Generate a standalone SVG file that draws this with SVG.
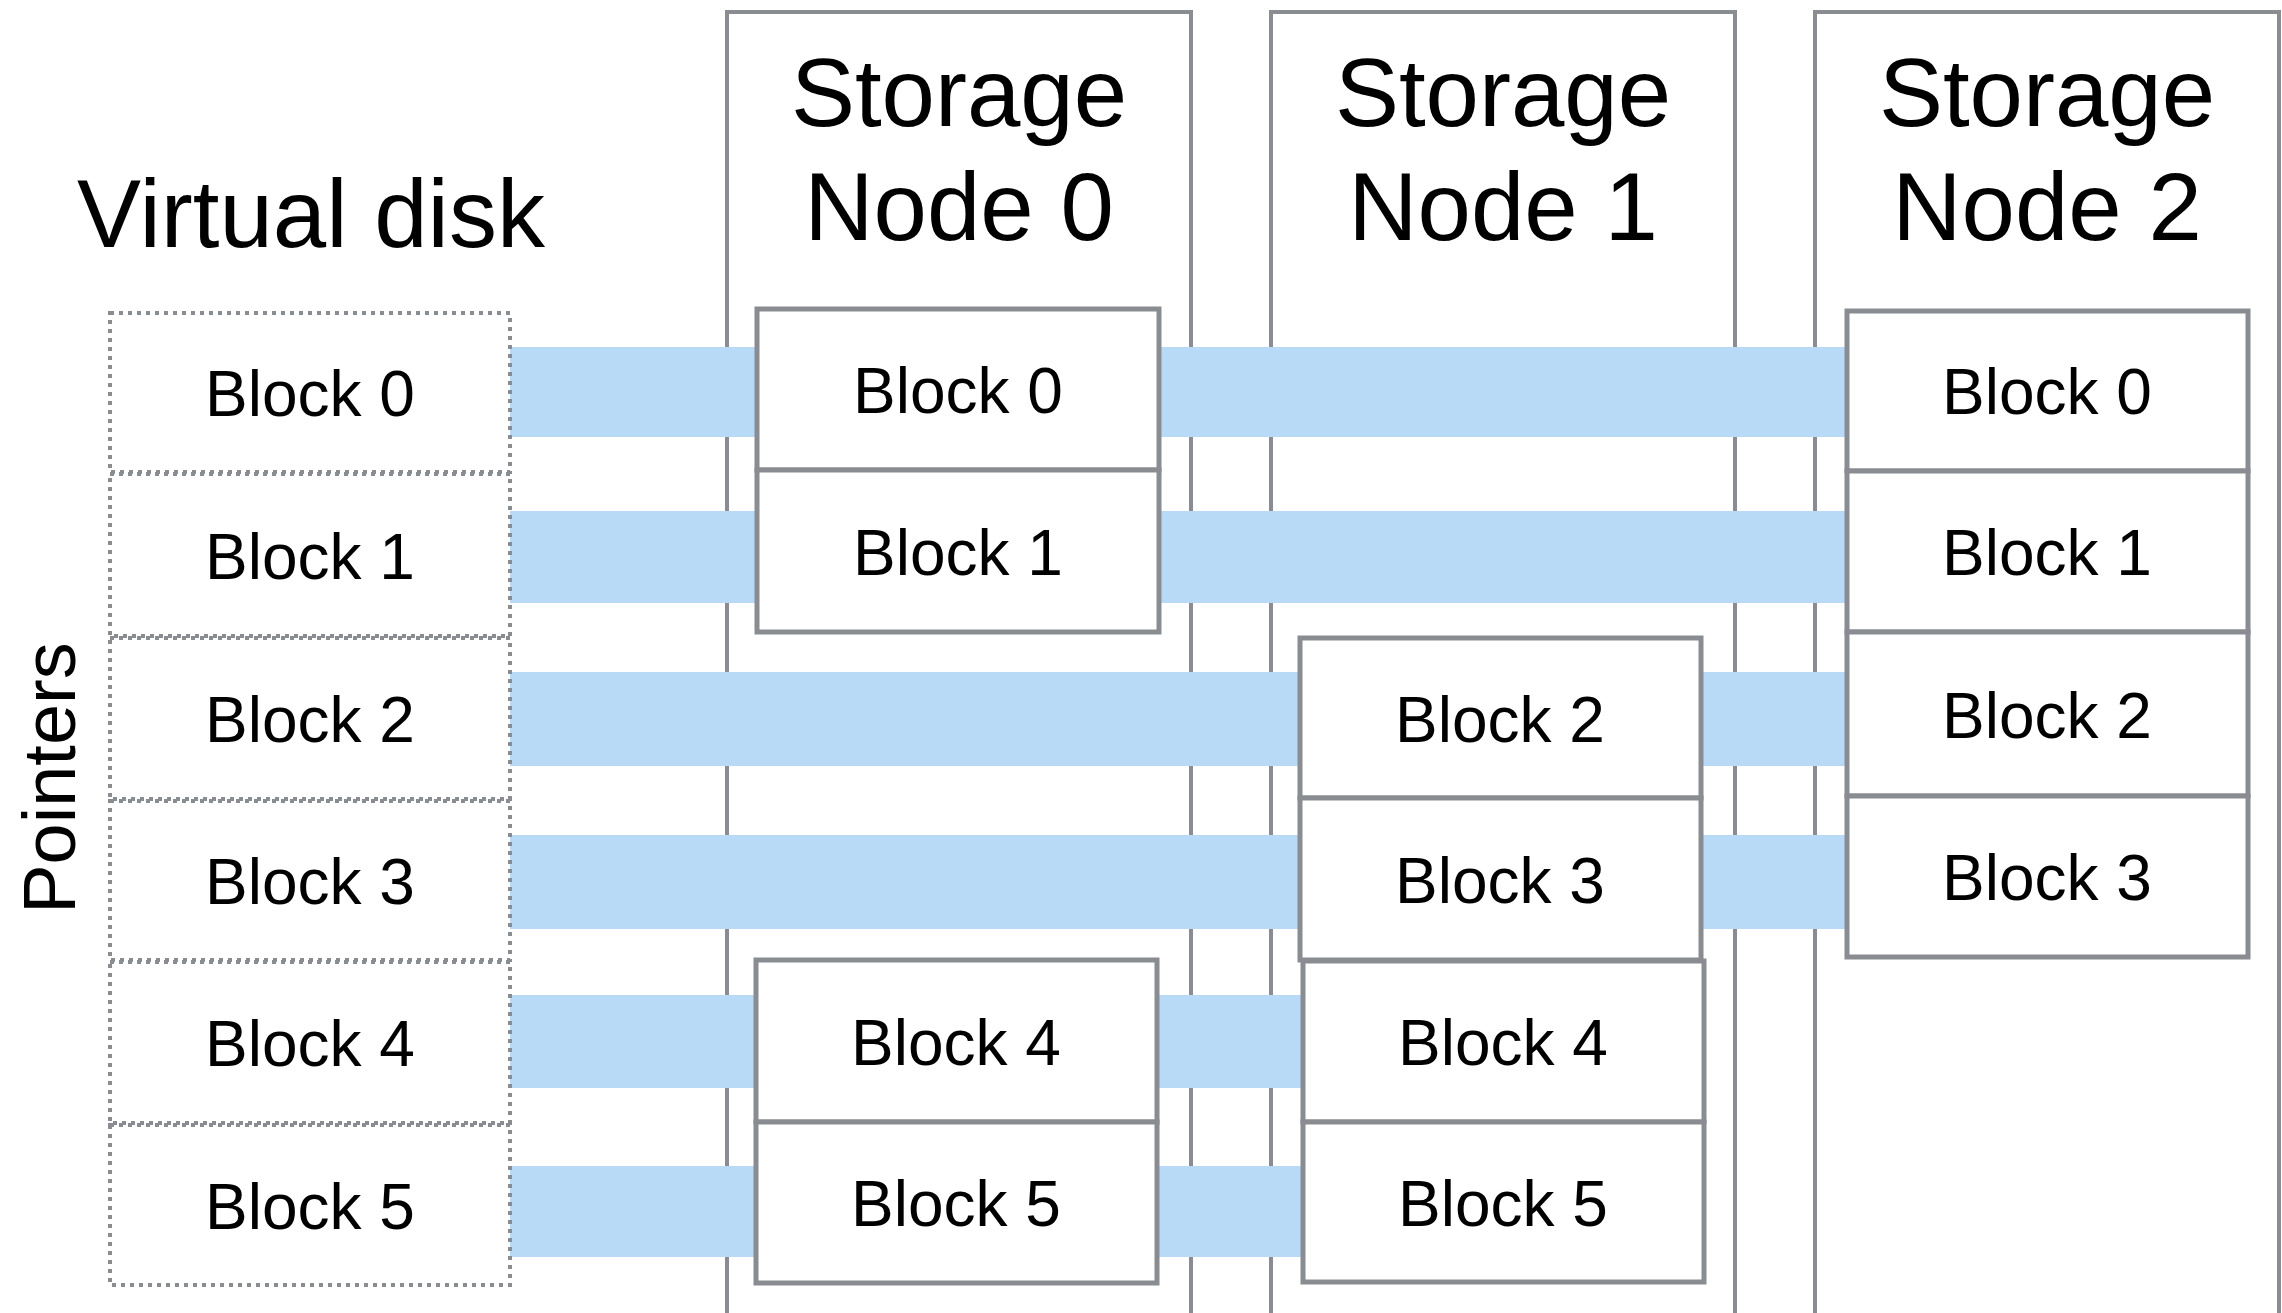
<svg xmlns="http://www.w3.org/2000/svg" width="2282" height="1313" viewBox="0 0 2282 1313">
  <style>
    text { font-family: "Liberation Sans", Arial, Helvetica, sans-serif; fill: #000; text-anchor: middle; }
    .title { font-size: 96px; }
    .side { font-size: 74px; }
    .lbl { font-size: 64px; }
    .node { fill: #fff; stroke: #898c91; stroke-width: 4; }
    .blk { fill: #fff; stroke: #898c91; stroke-width: 5; }
    .vblk { fill: #fff; stroke: #898c91; stroke-width: 4; stroke-dasharray: 4 5; }
    .band { fill: #b9daf7; }
  </style>

  <rect x="0" y="0" width="2282" height="1313" fill="#fff"/>

  <!-- Storage node containers -->
  <g id="storage-node-0">
    <rect class="node" x="727" y="12" width="464" height="1303"/>
    <text class="title" x="959" y="126">Storage</text>
    <text class="title" x="959" y="240">Node 0</text>
  </g>
  <g id="storage-node-1">
    <rect class="node" x="1271" y="12" width="464" height="1303"/>
    <text class="title" x="1503" y="126">Storage</text>
    <text class="title" x="1503" y="240">Node 1</text>
  </g>
  <g id="storage-node-2">
    <rect class="node" x="1815" y="12" width="464" height="1303"/>
    <text class="title" x="2047" y="126">Storage</text>
    <text class="title" x="2047" y="240">Node 2</text>
  </g>

  <!-- Pointer bands from virtual blocks to their replicas -->
  <g id="connectors">
    <rect class="band" x="510" y="347" width="249" height="90"/>
    <rect class="band" x="1157" y="347" width="692" height="90"/>
    <rect class="band" x="510" y="511" width="249" height="92"/>
    <rect class="band" x="1157" y="511" width="692" height="92"/>
    <rect class="band" x="510" y="672" width="792" height="94"/>
    <rect class="band" x="1698" y="672" width="151" height="94"/>
    <rect class="band" x="510" y="835" width="792" height="94"/>
    <rect class="band" x="1698" y="835" width="151" height="94"/>
    <rect class="band" x="510" y="995" width="249" height="93"/>
    <rect class="band" x="1155" y="995" width="150" height="93"/>
    <rect class="band" x="510" y="1166" width="249" height="91"/>
    <rect class="band" x="1155" y="1166" width="150" height="91"/>
  </g>

  <!-- Virtual disk -->
  <g id="virtual-disk">
    <text class="title" x="311" y="247">Virtual disk</text>
    <text class="side" transform="translate(75,778) rotate(-90)">Pointers</text>
  </g>
  <g id="vd-block-0">
    <rect class="vblk" x="110" y="313" width="400" height="159"/>
    <text class="lbl" x="310" y="416">Block 0</text>
  </g>
  <g id="vd-block-1">
    <rect class="vblk" x="110" y="474" width="400" height="162"/>
    <text class="lbl" x="310" y="579">Block 1</text>
  </g>
  <g id="vd-block-2">
    <rect class="vblk" x="110" y="638" width="400" height="161"/>
    <text class="lbl" x="310" y="742">Block 2</text>
  </g>
  <g id="vd-block-3">
    <rect class="vblk" x="110" y="801" width="400" height="159"/>
    <text class="lbl" x="310" y="904">Block 3</text>
  </g>
  <g id="vd-block-4">
    <rect class="vblk" x="110" y="962" width="400" height="161"/>
    <text class="lbl" x="310" y="1066">Block 4</text>
  </g>
  <g id="vd-block-5">
    <rect class="vblk" x="110" y="1125" width="400" height="160"/>
    <text class="lbl" x="310" y="1229">Block 5</text>
  </g>

  <!-- Storage node 0 blocks -->
  <g id="sn0-block-0">
    <rect class="blk" x="757" y="309" width="402" height="161"/>
    <text class="lbl" x="958" y="413">Block 0</text>
  </g>
  <g id="sn0-block-1">
    <rect class="blk" x="757" y="470" width="402" height="162"/>
    <text class="lbl" x="958" y="575">Block 1</text>
  </g>
  <g id="sn0-block-4">
    <rect class="blk" x="756" y="960" width="401" height="162"/>
    <text class="lbl" x="956" y="1065">Block 4</text>
  </g>
  <g id="sn0-block-5">
    <rect class="blk" x="756" y="1122" width="401" height="161"/>
    <text class="lbl" x="956" y="1226">Block 5</text>
  </g>

  <!-- Storage node 1 blocks -->
  <g id="sn1-block-2">
    <rect class="blk" x="1300" y="638" width="401" height="160"/>
    <text class="lbl" x="1500" y="742">Block 2</text>
  </g>
  <g id="sn1-block-3">
    <rect class="blk" x="1300" y="798" width="401" height="162"/>
    <text class="lbl" x="1500" y="903">Block 3</text>
  </g>
  <g id="sn1-block-4">
    <rect class="blk" x="1303" y="961" width="401" height="161"/>
    <text class="lbl" x="1503" y="1065">Block 4</text>
  </g>
  <g id="sn1-block-5">
    <rect class="blk" x="1303" y="1122" width="401" height="160"/>
    <text class="lbl" x="1503" y="1226">Block 5</text>
  </g>

  <!-- Storage node 2 blocks -->
  <g id="sn2-block-0">
    <rect class="blk" x="1847" y="311" width="401" height="160"/>
    <text class="lbl" x="2047" y="414">Block 0</text>
  </g>
  <g id="sn2-block-1">
    <rect class="blk" x="1847" y="471" width="401" height="161"/>
    <text class="lbl" x="2047" y="575">Block 1</text>
  </g>
  <g id="sn2-block-2">
    <rect class="blk" x="1847" y="632" width="401" height="164"/>
    <text class="lbl" x="2047" y="738">Block 2</text>
  </g>
  <g id="sn2-block-3">
    <rect class="blk" x="1847" y="796" width="401" height="161"/>
    <text class="lbl" x="2047" y="900">Block 3</text>
  </g>
</svg>
